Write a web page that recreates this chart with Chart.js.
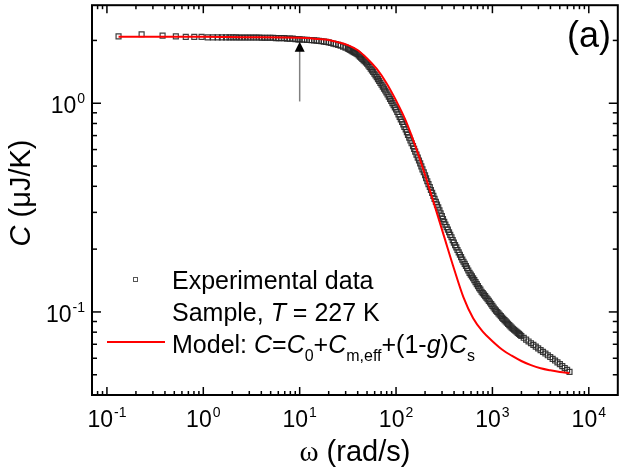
<!DOCTYPE html>
<html>
<head>
<meta charset="utf-8">
<script src="https://cdn.jsdelivr.net/npm/chart.js@4.4.0/dist/chart.umd.min.js"></script>
<style>
  html, body { margin: 0; padding: 0; background: #fff; }
  #wrap { width: 623px; height: 475px; }
</style>
</head>
<body>
<div id="wrap"><canvas id="chart" width="623" height="475"></canvas></div>
<script>
const expOmega = [
  0.132, 0.229, 0.378, 0.519, 0.658, 0.806, 0.96,
  1.11, 1.26, 1.41, 1.56, 1.72, 1.87, 2.02, 2.18, 2.35, 2.52, 2.70, 2.90, 3.10, 3.32, 3.55, 3.80,
  4.06, 4.34, 4.64, 4.96, 5.30, 5.67, 6.06, 6.48, 6.93, 7.41, 7.92, 8.47, 9.05, 9.68,
  10, 10.6, 11.2, 11.9, 12.6, 13.3, 14.1, 15.0, 15.8, 16.8, 17.8, 18.8, 20.0, 21.1, 22.4, 23.7,
  25.1, 26.6, 28.2, 29.9, 31.6, 33.5, 35.5, 37.6, 39.8, 42.2, 44.7, 47.3, 50.1, 53.1, 56.2, 59.6,
  63.1, 66.8, 70.8, 75.0, 79.4, 84.1, 89.1, 94.4,
  100, 106, 112, 119, 126, 133, 141, 150, 158, 168, 178, 188, 200, 211, 224, 237,
  251, 266, 282, 299, 316, 335, 355, 376, 398, 422, 447, 473, 501, 531, 562, 596,
  631, 668, 708, 750, 794, 841, 891, 944,
  1000, 1059, 1122, 1189, 1259, 1334, 1413, 1496, 1585, 1679, 1778, 1884, 1995, 2113, 2239, 2371,
  2512, 2661, 2818, 2985, 3162, 3350, 3548, 3758, 3981, 4217, 4467, 4732, 5012, 5309, 5623, 5957, 6310
];
const expC = [
  2.09, 2.14, 2.11, 2.09, 2.08, 2.08, 2.08,
  2.07, 2.07, 2.07, 2.07, 2.07, 2.07, 2.07, 2.07, 2.065, 2.065, 2.065, 2.065, 2.065, 2.065, 2.065, 2.065,
  2.06, 2.06, 2.06, 2.06, 2.06, 2.05, 2.05, 2.05, 2.05, 2.04, 2.04, 2.04, 2.03, 2.025,
  2.023, 2.020, 2.016, 2.013, 2.009, 2.004, 2.000, 1.995, 1.991, 1.983, 1.975, 1.967, 1.959, 1.945, 1.932, 1.919,
  1.905, 1.886, 1.866, 1.847, 1.828, 1.800, 1.772, 1.745, 1.718, 1.674, 1.632, 1.589, 1.549, 1.492, 1.437, 1.385,
  1.334, 1.279, 1.226, 1.176, 1.127, 1.075, 1.026, 0.978,
  0.933, 0.884, 0.837, 0.792, 0.750, 0.705, 0.663, 0.623, 0.586, 0.549, 0.515, 0.482, 0.452, 0.423, 0.397, 0.372,
  0.348, 0.327, 0.307, 0.288, 0.270, 0.255, 0.241, 0.228, 0.215, 0.204, 0.193, 0.183, 0.174, 0.166, 0.158, 0.151,
  0.145, 0.139, 0.133, 0.128, 0.123, 0.119, 0.115, 0.111,
  0.107, 0.103, 0.100, 0.0970, 0.0940, 0.0914, 0.0889, 0.0865, 0.0841, 0.0822, 0.0804, 0.0785, 0.0767, 0.0752, 0.0737, 0.0722,
  0.0708, 0.0695, 0.0682, 0.0669, 0.0656, 0.0644, 0.0632, 0.0620, 0.0608, 0.0596, 0.0585, 0.0573, 0.0562, 0.0550, 0.0539, 0.0528, 0.0516
];
// more points of the dense, dark part of the band
const expOmega2 = [
  32.5, 34.5, 36.5, 38.7, 41.0, 43.4, 46.0, 48.7, 51.6, 54.6, 57.9, 61.3, 64.9, 68.8, 72.9, 77.2, 81.7, 86.6, 91.7, 97.2,
  103, 109, 115.5, 122, 129.5, 137, 145, 154, 163, 173, 183, 194, 205, 217, 230, 244, 259, 274, 290, 307,
  325, 345, 365, 387, 410, 434, 460, 487, 516, 546, 579, 613, 649, 688, 729, 772, 818, 866, 917, 972,
  1029, 1090, 1155, 1223, 1296, 1373, 1454, 1540, 1631, 1728, 1830, 1939
];
const expC2 = [
  1.814, 1.786, 1.758, 1.731, 1.696, 1.653, 1.610, 1.569, 1.520, 1.464, 1.411, 1.359, 1.306, 1.252, 1.201, 1.151, 1.101, 1.050, 1.002, 0.955,
  0.908, 0.860, 0.814, 0.771, 0.727, 0.684, 0.643, 0.604, 0.567, 0.532, 0.498, 0.467, 0.437, 0.410, 0.384, 0.360, 0.337, 0.317, 0.297, 0.279,
  0.262, 0.248, 0.234, 0.221, 0.209, 0.198, 0.188, 0.178, 0.170, 0.162, 0.154, 0.148, 0.142, 0.136, 0.130, 0.125, 0.121, 0.117, 0.113, 0.109,
  0.105, 0.1015, 0.0985, 0.0955, 0.0927, 0.0901, 0.0877, 0.0853, 0.0831, 0.0813, 0.0794, 0.0776
];

// Model curve (red)
const modelOmega = [0.132, 0.3, 1, 3, 10, 15.8, 20, 25.1, 31.6, 39.8, 50.1, 63.1, 79.4,
  100, 126, 158, 200, 251, 316, 398, 501, 631, 794,
  1000, 1259, 1585, 1995, 2512, 3162, 3981, 5012, 6300];
const modelC = [2.08, 2.08, 2.08, 2.07, 2.06, 2.03, 2.01, 1.96, 1.90, 1.80, 1.64, 1.46, 1.25,
  1.03, 0.826, 0.627, 0.454, 0.324, 0.229, 0.162, 0.1175, 0.0933, 0.0804,
  0.0724, 0.0661, 0.0617, 0.0582, 0.0556, 0.0537, 0.0525, 0.0516, 0.0509];

// axes / ticks
const xRange = [0.07, 20000];
const yRange = [0.04, 2.95];
const xMajor = [0.1, 1, 10, 100, 1000, 10000];
const xMajorExp = ['-1', '0', '1', '2', '3', '4'];
const yMajor = [0.1, 1];
const yMajorExp = ['-1', '0'];

// arrow marking omega = 10
const arrowOmega = 10;
const arrowFromC = 1.02;
const arrowToC = 1.97;

const SANS = '"Liberation Sans", Arial, sans-serif';

function minorTicks(lo, hi) {
  const out = [];
  for (let d = -3; d <= 5; d++) {
    for (let m = 2; m <= 9; m++) {
      const v = m * Math.pow(10, d);
      if (v > lo && v < hi) out.push(v);
    }
  }
  return out;
}

// draws a sequence of text parts (italic / subscript) starting at x, returns width
function rich(ctx, x, y, parts, size, measureOnly) {
  let cx = x;
  parts.forEach(p => {
    const s = p.sub ? Math.round(size * 0.64) : size;
    ctx.font = (p.it ? 'italic ' : '') + s + 'px ' + (p.serif ? '"Liberation Serif", serif' : SANS);
    if (!measureOnly) ctx.fillText(p.t, cx, y + (p.sub ? size * 0.3 : 0));
    cx += ctx.measureText(p.t).width;
  });
  return cx - x;
}

function pow10(ctx, x, y, exp, align) {
  ctx.font = '23px ' + SANS;
  const wb = ctx.measureText('10').width;
  ctx.font = '14px ' + SANS;
  const we = ctx.measureText(exp).width;
  const w = wb + we + 1;
  let sx = align === 'right' ? x - w : x - w / 2;
  ctx.font = '23px ' + SANS;
  ctx.fillText('10', sx, y);
  ctx.font = '14px ' + SANS;
  ctx.fillText(exp, sx + wb + 1, y - 10);
}

const decor = {
  id: 'decor',
  afterDatasetsDraw(chart) {
    const ctx = chart.ctx, xs = chart.scales.x, ys = chart.scales.y, a = chart.chartArea;
    ctx.save();
    ctx.textAlign = 'left';
    ctx.textBaseline = 'alphabetic';

    // arrow
    const ax = xs.getPixelForValue(arrowOmega);
    const ay0 = ys.getPixelForValue(arrowFromC);
    const ay1 = ys.getPixelForValue(arrowToC);
    ctx.strokeStyle = '#808080';
    ctx.lineWidth = 1.5;
    ctx.beginPath(); ctx.moveTo(ax, ay0); ctx.lineTo(ax, ay1 + 8); ctx.stroke();
    ctx.fillStyle = '#000';
    ctx.beginPath(); ctx.moveTo(ax, ay1); ctx.lineTo(ax - 5, ay1 + 10); ctx.lineTo(ax + 5, ay1 + 10); ctx.closePath(); ctx.fill();

    // ticks (inward, all four sides)
    ctx.strokeStyle = '#000';
    ctx.lineWidth = 1.5;
    const line = (x1, y1, x2, y2) => { ctx.beginPath(); ctx.moveTo(x1, y1); ctx.lineTo(x2, y2); ctx.stroke(); };
    minorTicks(xRange[0], xRange[1]).forEach(v => {
      const p = xs.getPixelForValue(v);
      line(p, a.bottom, p, a.bottom - 4); line(p, a.top, p, a.top + 4);
    });
    xMajor.forEach(v => {
      const p = xs.getPixelForValue(v);
      line(p, a.bottom, p, a.bottom - 8); line(p, a.top, p, a.top + 8);
    });
    minorTicks(yRange[0], yRange[1]).forEach(v => {
      const p = ys.getPixelForValue(v);
      line(a.left, p, a.left + 5, p); line(a.right, p, a.right - 5, p);
    });
    yMajor.forEach(v => {
      const p = ys.getPixelForValue(v);
      line(a.left, p, a.left + 9, p); line(a.right, p, a.right - 9, p);
    });

    // frame
    ctx.lineWidth = 2;
    ctx.strokeRect(a.left, a.top, a.right - a.left, a.bottom - a.top);

    // tick labels
    ctx.fillStyle = '#000';
    xMajor.forEach((v, i) => pow10(ctx, xs.getPixelForValue(v), 427, xMajorExp[i], 'center'));
    yMajor.forEach((v, i) => pow10(ctx, 85, ys.getPixelForValue(v) + 10, yMajorExp[i], 'right'));

    // axis titles
    const xt = [{ t: 'ω', serif: true }, { t: ' (rad/s)' }];
    const wx = rich(ctx, 0, 0, xt, 29, true);
    rich(ctx, (a.left + a.right) / 2 - wx / 2, 461, xt, 29);
    const yt = [{ t: 'C', it: true }, { t: ' (μJ/K)' }];
    const wy = rich(ctx, 0, 0, yt, 29, true);
    ctx.save();
    ctx.translate(30, 193);
    ctx.rotate(-Math.PI / 2);
    rich(ctx, -wy / 2, 0, yt, 29);
    ctx.restore();

    // panel label
    ctx.font = '36px ' + SANS;
    ctx.textAlign = 'right';
    ctx.fillText('(a)', 611, 47);
    ctx.textAlign = 'left';

    // legend
    ctx.strokeStyle = '#555';
    ctx.lineWidth = 1;
    ctx.strokeRect(133.5, 277.5, 4, 4);
    rich(ctx, 172, 289, [{ t: 'Experimental data' }], 25);
    rich(ctx, 172, 321, [{ t: 'Sample, ' }, { t: 'T', it: true }, { t: ' = 227 K' }], 25);
    ctx.strokeStyle = '#ff0000';
    ctx.lineWidth = 2;
    line(107, 342, 165, 342);
    rich(ctx, 172, 353, [
      { t: 'Model: ' }, { t: 'C', it: true }, { t: '=' }, { t: 'C', it: true }, { t: '0', sub: true },
      { t: '+' }, { t: 'C', it: true }, { t: 'm,eff', sub: true }, { t: '+(1-' }, { t: 'g', it: true },
      { t: ')' }, { t: 'C', it: true }, { t: 's', sub: true }
    ], 25);

    ctx.restore();
  }
};

const expPoints = expOmega.map((x, i) => ({ x: x, y: expC[i] }))
  .concat(expOmega2.map((x, i) => ({ x: x, y: expC2[i] })))
  .sort((p, q) => p.x - q.x);
const modelPoints = modelOmega.map((x, i) => ({ x: x, y: modelC[i] }));

new Chart(document.getElementById('chart').getContext('2d'), {
  type: 'scatter',
  data: {
    datasets: [{
      label: 'Model',
      data: modelPoints,
      showLine: true,
      borderColor: '#ff0000',
      borderWidth: 2,
      pointRadius: 0,
      cubicInterpolationMode: 'monotone'
    }, {
      label: 'Experimental data',
      data: expPoints,
      showLine: false,
      pointStyle: 'rect',
      pointRadius: 3.5,
      borderWidth: 1.2,
      borderColor: 'rgba(40,40,40,0.9)',
      backgroundColor: 'rgba(255,255,255,0)'
    }]
  },
  options: {
    responsive: false,
    animation: false,
    layout: { padding: { left: 92, right: 1, top: 3, bottom: 80 } },
    scales: {
      x: { type: 'logarithmic', min: xRange[0], max: xRange[1], display: false },
      y: { type: 'logarithmic', min: yRange[0], max: yRange[1], display: false }
    },
    plugins: { legend: { display: false }, tooltip: { enabled: false } }
  },
  plugins: [decor]
});
</script>
</body>
</html>
